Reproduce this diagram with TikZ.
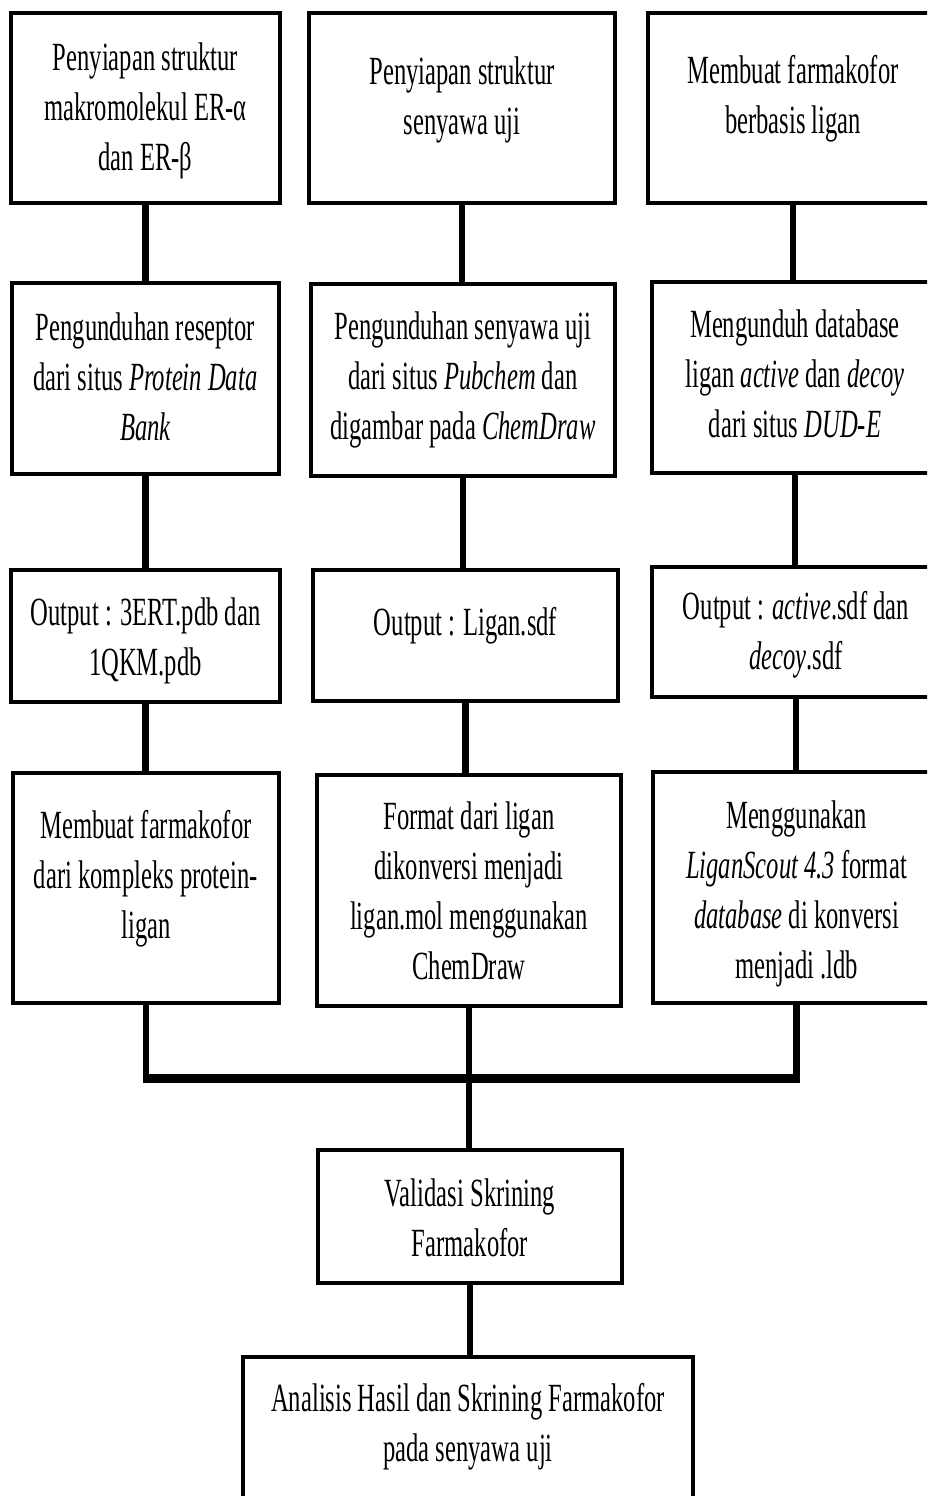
\documentclass[tikz,border=0pt]{standalone}
\usepackage{fontspec}
\setmainfont{Liberation Serif}[FakeStretch=0.615]
\newcommand{\flowbox}[7]{%
  \node[box, minimum width=#4pt, minimum height=#5pt] (#1) at (#2,#3) {};
  \node[txt] (#1t) at ([yshift=#6pt]#1.center) {#7};}
\begin{document}
\begin{tikzpicture}[x=1pt,y=-1pt,
  box/.style={draw=black, line width=3.5pt, rectangle, inner sep=0pt},
  txt/.style={inner sep=0pt, align=center, font=\fontsize{40}{50}\selectfont},
  conn/.style={line width=6.5pt},
  bus/.style={line width=9pt}]
\clip (0,0) rectangle (927,1496);
% row 1
\flowbox{r1c1}{145.5}{108}{269}{190}{-3}{Penyiapan struktur\\makromolekul ER-α\\dan ER-β}
\flowbox{r1c2}{462}{108}{306}{190}{8}{Penyiapan struktur\\senyawa uji}
\flowbox{r1c3}{793}{108}{290}{190}{9}{Membuat farmakofor\\berbasis ligan}
% row 2
\flowbox{r2c1}{145.5}{378.5}{267}{191}{2}{Pengunduhan reseptor\\dari situs \textit{Protein Data}\\\textit{Bank}}
\flowbox{r2c2}{463}{380}{304}{192}{0}{Pengunduhan senyawa uji\\dari situs \textit{Pubchem} dan\\digambar pada \textit{ChemDraw}}
\flowbox{r2c3}{795}{377.5}{286}{191}{4}{Mengunduh database\\ligan \textit{active} dan \textit{decoy}\\dari situs \textit{DUD-E}}
% row 3
\flowbox{r3c1}{145.5}{636}{269}{132}{-5}{Output : 3ERT.pdb dan\\1QKM.pdb}
\flowbox{r3c2}{465.5}{635.5}{305}{131}{10}{Output : Ligan.sdf}
\flowbox{r3c3}{796}{632}{288}{130}{-3}{Output : \textit{active}.sdf dan\\\textit{decoy}.sdf}
% row 4
\flowbox{r4c1}{146}{888}{266}{230}{9}{Membuat farmakofor\\dari kompleks protein-\\ligan}
\flowbox{r4c2}{469}{890.5}{304}{231}{0}{Format dari ligan\\dikonversi menjadi\\ligan.mol menggunakan\\ChemDraw}
\flowbox{r4c3}{796.5}{887.5}{287}{231}{-6}{Menggunakan\\\textit{LiganScout 4.3} format\\\textit{database} di konversi\\menjadi .ldb}
% lower
\flowbox{val}{470}{1216.5}{304}{133}{-1}{Validasi Skrining\\Farmakofor}
\flowbox{fin}{468}{1428.5}{450}{143}{2}{Analisis Hasil dan Skrining Farmakofor\\pada senyawa uji}
\coordinate (m) at (469,1078);
% connectors
\foreach \a/\b in {r1c1/r2c1, r1c2/r2c2, r1c3/r2c3, r2c1/r3c1, r2c2/r3c2, r2c3/r3c3, r3c1/r4c1, r3c2/r4c2, r3c3/r4c3}
  \draw[conn] (\a.south) -- (\a.south |- \b.north);
\draw[conn] (r4c1.south) -- (r4c1.south |- m);
\draw[conn] (r4c3.south) -- (r4c3.south |- m);
\draw[bus] ([xshift=-3.25pt]r4c1.south |- m) -- ([xshift=3.25pt]r4c3.south |- m);
\draw[conn] (r4c2.south) -- (r4c2.south |- val.north);
\draw[conn] (val.south) -- (val.south |- fin.north);
\end{tikzpicture}
\end{document}
